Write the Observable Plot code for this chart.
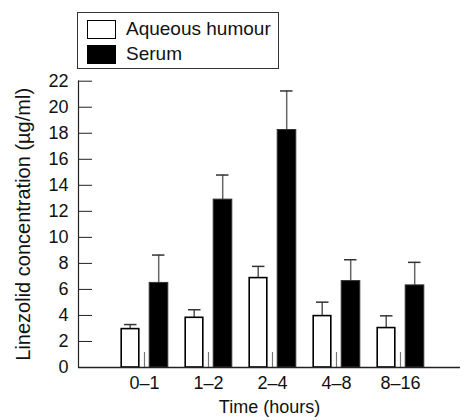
<!DOCTYPE html>
<html>
<head>
<meta charset="utf-8">
<script src="https://cdn.jsdelivr.net/npm/d3@7"></script>
<script src="https://cdn.jsdelivr.net/npm/@observablehq/plot@0.6"></script>
<style>
  html, body { margin: 0; padding: 0; background: #fff; }
  #wrap { position: relative; width: 464px; height: 420px; font-family: "Liberation Sans", Arial, sans-serif; }
  #legend { position: absolute; left: 77px; top: 12px; width: 200px; height: 55px; border: 1px solid #333; background: #fff; }
  .item { position: absolute; left: 9px; display: flex; align-items: center; font-size: 19px; color: #111; }
  .sw { width: 27px; height: 17px; border: 1.5px solid #000; margin-right: 10px; box-sizing: content-box; }
</style>
</head>
<body>
<div id="wrap">
  <div id="chart"></div>
  <div id="legend">
    <div class="item" style="top:5px"><div class="sw" style="background:#fff"></div><span>Aqueous humour</span></div>
    <div class="item" style="top:30px"><div class="sw" style="background:#000"></div><span>Serum</span></div>
  </div>
</div>
<script>
const categories = ["0–1", "1–2", "2–4", "4–8", "8–16"];
const aqueousMean = [2.95, 3.82, 6.87, 3.95, 3.03];
const aqueousErr  = [0.35, 0.62, 0.90, 1.07, 0.94];
const serumMean   = [6.50, 12.90, 18.25, 6.64, 6.31];
const serumErr    = [2.14, 1.89, 3.00, 1.64, 1.77];
const markerHeight = [1.15, 1.15, 1.15, 1.15, 1.15];
const yTicks = [0, 2, 4, 6, 8, 10, 12, 14, 16, 18, 20, 22];
const yLabel = "Linezolid concentration (µg/ml)";
const xLabel = "Time (hours)";

const aq = categories.map((c, i) => ({cat: c, v: aqueousMean[i], hi: aqueousMean[i] + aqueousErr[i]}));
const se = categories.map((c, i) => ({cat: c, v: serumMean[i], hi: serumMean[i] + serumErr[i]}));
const mk = categories.map((c, i) => ({cat: c, h: markerHeight[i]}));

const W = 464, H = 420, mL = 78, mR = 4, mT = 80.7, mB = 53;
const frameW = W - mL - mR;

const plot = Plot.plot({
  width: W,
  height: H,
  marginLeft: mL,
  marginRight: mR,
  marginTop: mT,
  marginBottom: mB,
  style: {fontFamily: "Liberation Sans, Arial, sans-serif", fontSize: "18px", color: "#111", background: "transparent"},
  x: {domain: categories, paddingInner: 0, paddingOuter: 0.4385, align: 0.55, label: null},
  y: {domain: [0, 22], label: null},
  marks: [
    Plot.axisX({tickSize: 0, tickPadding: 9, fontSize: 18, label: xLabel, labelAnchor: "center", labelOffset: 45, labelArrow: "none"}),
    Plot.axisY({ticks: yTicks, tickSize: 0, tickPadding: 10, fontSize: 18, label: null}),
    Plot.text([yLabel], {frameAnchor: "left", textAnchor: "middle", lineAnchor: "middle", rotate: -90, dx: -55, fontSize: 20, fill: "#111"}),
    // error bars (upper only)
    Plot.ruleX(aq, {x: "cat", y1: "v", y2: "hi", dx: -14.3, stroke: "#555", strokeWidth: 1.5}),
    Plot.ruleX(se, {x: "cat", y1: "v", y2: "hi", dx: 14.2, stroke: "#666", strokeWidth: 1.5}),
    Plot.tickY(aq, {x: "cat", y: "hi", insetLeft: 12, insetRight: 39.5, stroke: "#333", strokeWidth: 1.5}),
    Plot.tickY(se, {x: "cat", y: "hi", insetLeft: 40, insetRight: 11.5, stroke: "#333", strokeWidth: 1.5}),
    // bars
    Plot.barY(aq, {x: "cat", y: "v", insetLeft: 9.2, insetRight: 37.2, fill: "#fff", stroke: "#000", strokeWidth: 1.6}),
    Plot.barY(se, {x: "cat", y: "v", insetLeft: 37.2, insetRight: 8.2, fill: "#000", stroke: "#333", strokeWidth: 1}),
    // small markers at group centres
    Plot.ruleX(mk, {x: "cat", y1: 0, y2: "h", stroke: "#777", strokeWidth: 1.2}),
    // inward y ticks
    Plot.ruleY(yTicks, {y: d => d, insetRight: frameW - 14, stroke: "#222", strokeWidth: 1}),
    // axes lines
    Plot.frame({anchor: "left", stroke: "#222", strokeWidth: 1.2}),
    Plot.ruleY([0], {stroke: "#222", strokeWidth: 1.5})
  ]
});
document.getElementById("chart").appendChild(plot);
</script>
</body>
</html>
